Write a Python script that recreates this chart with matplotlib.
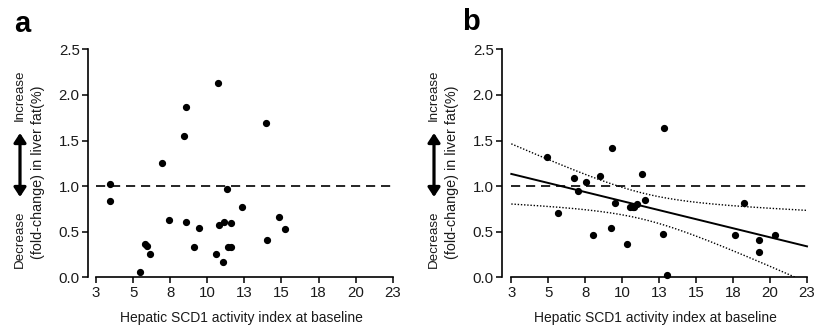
import numpy as np
import matplotlib
matplotlib.use("Agg")
import matplotlib.pyplot as plt

plt.rcParams['font.family'] = ['Liberation Sans', 'DejaVu Sans']

# ---- data (axis units) ----
a_x = [3.94, 3.94, 5.97, 6.33, 6.46, 6.64, 7.45, 7.94, 8.91, 9.04, 9.04, 9.63, 9.94,
       11.11, 11.25, 11.31, 11.54, 11.63, 11.83, 11.90, 12.10, 12.12, 12.82, 14.44,
       14.51, 15.34, 15.72]
a_y = [1.026, 0.832, 0.058, 0.365, 0.343, 0.252, 1.255, 0.624, 1.547, 1.869, 0.609,
       0.336, 0.544, 0.252, 2.128, 0.577, 0.172, 0.609, 0.964, 0.336, 0.336, 0.595,
       0.766, 1.690, 0.412, 0.657, 0.526]

b_x = [5.44, 6.13, 7.22, 7.53, 8.05, 8.52, 9.02, 9.74, 9.83, 10.04, 10.82, 11.03,
       11.21, 11.32, 11.52, 11.84, 12.04, 13.24, 13.33, 13.53, 18.15, 18.74, 19.73,
       19.73, 20.81]
b_y = [1.318, 0.701, 1.091, 0.945, 1.044, 0.460, 1.109, 0.540, 1.416, 0.818, 0.365,
       0.766, 0.766, 0.766, 0.803, 1.128, 0.850, 0.478, 1.642, 0.022, 0.460, 0.818,
       0.412, 0.281, 0.460]

x_ticks = [3, 5.5, 8, 10.5, 13, 15.5, 18, 20.5, 23]
x_tick_labels = ['3', '5', '8', '10', '13', '15', '18', '20', '23']
y_ticks = [0.0, 0.5, 1.0, 1.5, 2.0, 2.5]
y_tick_labels = ['0.0', '0.5', '1.0', '1.5', '2.0', '2.5']
reference_level = 1.0
t_crit = 2.069  # t(0.975, df=23)

W, H = 816, 329
fig = plt.figure(figsize=(W / 100, H / 100), dpi=100)
TXT = '#1a1a1a'


def px_axes(left, right, top, bottom):
    return fig.add_axes([left / W, 1 - bottom / H, (right - left) / W, (bottom - top) / H])


def style(ax, xl, xr):
    ax.set_xlim(xl, xr)
    ax.set_ylim(0, 2.5)
    for s in ('top', 'right'):
        ax.spines[s].set_visible(False)
    ax.spines['bottom'].set_bounds(3, 23)
    ax.spines['left'].set_bounds(0, 2.5)
    for s in ('bottom', 'left'):
        ax.spines[s].set_linewidth(1.2)
    ax.set_xticks(x_ticks)
    ax.set_xticklabels(x_tick_labels)
    ax.set_yticks(y_ticks)
    ax.set_yticklabels(y_tick_labels)
    ax.tick_params(direction='out', length=4, width=1.1, labelsize=10.8, pad=2,
                   colors='black', labelcolor=TXT)
    ax.set_xlabel('Hepatic SCD1 activity index at baseline', fontsize=10,
                  color=TXT, labelpad=8)
    ax.plot([3, 23], [reference_level, reference_level], ls=(0, (5.5, 3.5)),
            color='black', lw=1.2)


def ylabel(xc1, xc2):
    fig.text(xc1 / W, 1 - 95 / H, 'Increase', rotation=90, ha='center', va='center',
             fontsize=9.6, color=TXT)
    fig.text(xc1 / W, 1 - 239 / H, 'Decrease', rotation=90, ha='center', va='center',
             fontsize=9.6, color=TXT)
    fig.text(xc2 / W, 1 - 172 / H, '(fold-change) in liver fat(%)', rotation=90,
             ha='center', va='center', fontsize=10.4, color=TXT)
    fig.add_artist(matplotlib.patches.FancyArrowPatch(
        (xc1 / W, 1 - 197 / H), (xc1 / W, 1 - 133 / H), transform=fig.transFigure,
        arrowstyle='<|-|>,head_length=5.5,head_width=3.6', lw=2.3, color='black',
        mutation_scale=1, shrinkA=0, shrinkB=0))


# ---- panel a ----
axa = px_axes(88, 394, 49.3, 277.3)
style(axa, 3 - 8 / 14.8, 23 + 1.3 / 14.8)
axa.plot(a_x, a_y, 'o', color='black', ms=4.2, clip_on=False, zorder=3)
ylabel(20, 38)
fig.text(14 / W, 1 - 24 / H, 'a', fontsize=21, fontweight='bold', va='center', ha='left')

# ---- panel b ----
axb = px_axes(502, 809, 49.3, 277.3)
style(axb, 3 - 9.3 / 14.78, 23 + 2 / 14.78)
bx = np.array(b_x)
by = np.array(b_y)
slope, intercept = np.polyfit(bx, by, 1)
n = len(bx)
resid = by - (slope * bx + intercept)
s_err = np.sqrt(np.sum(resid ** 2) / (n - 2))
xs = np.linspace(3, 23, 200)
fit = slope * xs + intercept
half = t_crit * s_err * np.sqrt(1 / n + (xs - bx.mean()) ** 2 / np.sum((bx - bx.mean()) ** 2))
axb.plot(xs, fit, color='black', lw=1.4)
axb.plot(xs, fit + half, color='black', lw=1.0, ls=(0, (1, 1.3)))
axb.plot(xs, fit - half, color='black', lw=1.0, ls=(0, (1, 1.3)))
axb.plot(b_x, b_y, 'o', color='black', ms=4.2, clip_on=False, zorder=3)
ylabel(434, 452)
fig.text(462 / W, 1 - 22 / H, 'b', fontsize=21, fontweight='bold', va='center', ha='left')

fig.savefig('out.png', dpi=100)
